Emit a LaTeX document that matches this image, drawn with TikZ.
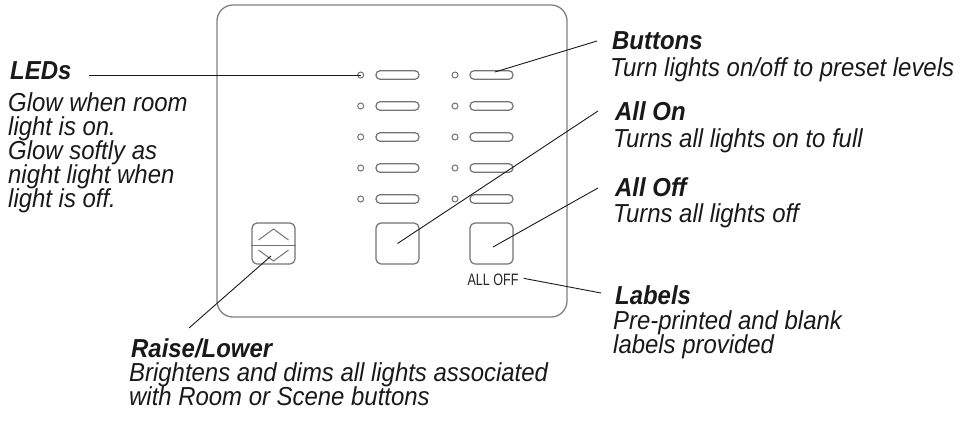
\documentclass[tikz,border=0pt]{standalone}
\usepackage{fontspec}
\setmainfont{Liberation Sans}[FakeStretch=0.92]
\newfontfamily\condfont{Liberation Sans}[FakeStretch=0.76]
\begin{document}
\begin{tikzpicture}[x=1pt,y=-1pt,
  panelline/.style={draw=black!50, line width=1.3pt},
  ledmark/.style={circle, draw=black!55, line width=1pt, inner sep=0pt, minimum size=6pt},
  barkey/.style={rectangle, rounded corners=4pt, draw=black!55, line width=1.2pt, inner sep=0pt, minimum width=43pt, minimum height=8.5pt},
  squarekey/.style={rectangle, rounded corners=5pt, draw=black!55, line width=1.2pt, inner sep=0pt, minimum width=43pt, minimum height=41pt},
  leader/.style={draw=black!90, line width=0.9pt},
  ctitle/.style={anchor=base west, inner sep=0pt, text=black!90, font=\fontsize{26}{24}\selectfont\bfseries\itshape},
  cbody/.style={anchor=base west, inner sep=0pt, text=black!90, font=\fontsize{26}{24}\selectfont\itshape},
]
\useasboundingbox (0,0) rectangle (961,421);
% panel
\node[panelline, rectangle, rounded corners=16pt, inner sep=0pt, minimum width=350pt, minimum height=312pt] (panel) at (392,161) {};
% LEDs and bars
\foreach \i/\yy in {1/75,2/106,3/137,4/168,5/199}{
  \node[ledmark] (ledL\i) at (360.7,\yy) {};
  \node[barkey] (barL\i) at (397.5,\yy) {};
  \node[ledmark] (ledR\i) at (455,\yy) {};
  \node[barkey] (barR\i) at (491.5,\yy) {};
}
% square keys
\node[squarekey] (allon) at (397.5,243.5) {};
\node[squarekey] (alloff) at (491.5,243.5) {};
\node[squarekey] (raise) at (273.5,243.5) {};
\draw[draw=black!55, line width=1.1pt] (raise.west |- 0,245.5) coordinate (sepL) -- (raise.east |- 0,245.5) coordinate (sepR);
\draw[draw=black!55, line width=1pt] (258.5,240) -- (273.5,229) -- (288.5,240);
\draw[draw=black!55, line width=1pt] (258.5,250) -- (273.5,261) -- (288.5,250);
% ALL OFF label
\node[inner sep=0pt, anchor=base, text=black!85, font=\condfont\fontsize{16.5}{16.5}\selectfont] (alloffLabel) at (493,285) {ALL OFF};

% callouts
\node[ctitle] (tLED) at (10,79) {LEDs};
\foreach \t [count=\k] in {Glow when room, light is on., Glow softly as, night light when, light is off.}
  \node[cbody] (bLED\k) at (8,{111+24*(\k-1)}) {\t};
\coordinate (eLED) at (89,75);
\draw[leader] (eLED) -- (ledL1.center);

\node[ctitle] (tBtn) at (612,49) {Buttons};
\node[cbody] (bBtn) at (610,76) {Turn lights on/off to preset levels};
\coordinate (eBtn) at (597,41);
\coordinate (pBtn) at (495,72);
\draw[leader] (eBtn) -- (pBtn);

\node[ctitle] (tOn) at (615,120) {All On};
\node[cbody] (bOn) at (613,147) {Turns all lights on to full};
\coordinate (eOn) at (598,111);
\draw[leader] (eOn) -- (allon.center);

\node[ctitle] (tOff) at (615,196) {All Off};
\node[cbody] (bOff) at (613,222) {Turns all lights off};
\coordinate (eOff) at (598,188);
\coordinate (pOff) at (493,247);
\draw[leader] (eOff) -- (pOff);

\node[ctitle] (tLab) at (615,304) {Labels};
\node[cbody] (bLab1) at (613,329) {Pre-printed and blank};
\node[cbody] (bLab2) at (613,353) {labels provided};
\coordinate (eLab) at (601,293);
\draw[leader] (alloffLabel.east) ++(5,-1) -- (eLab);

\node[ctitle] (tRL) at (131,357) {Raise/Lower};
\node[cbody] (bRL1) at (129,381) {Brightens and dims all lights associated};
\node[cbody] (bRL2) at (129,405) {with Room or Scene buttons};
\coordinate (eRL) at (189,328);
\coordinate (pRL) at (271,256);
\draw[leader] (eRL) -- (pRL);
\end{tikzpicture}
\end{document}
